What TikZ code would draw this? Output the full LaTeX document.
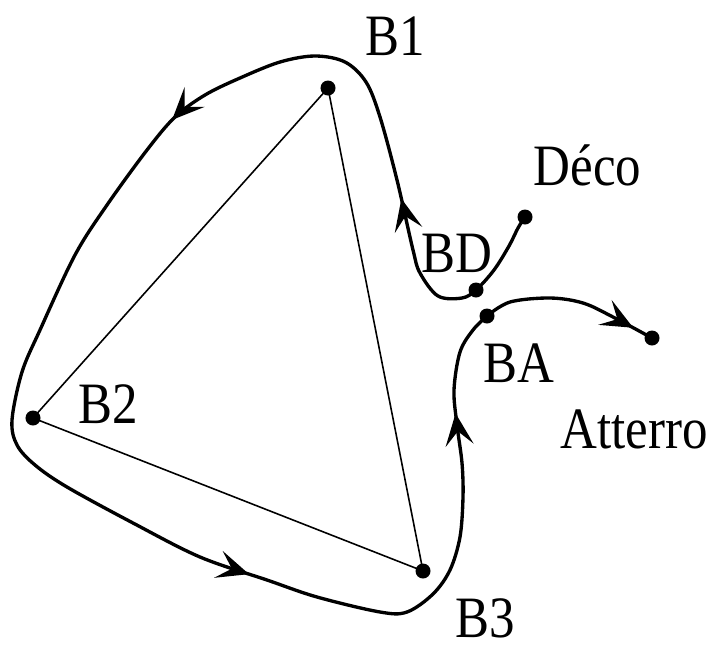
\documentclass[tikz,border=0pt]{standalone}
\usepackage{fontspec}
\setmainfont{Liberation Serif}
\usetikzlibrary{arrows.meta,decorations.markings}
\newcommand{\stretchtxt}[1]{\scalebox{1}[1.15]{#1}}
\begin{document}
\begin{tikzpicture}[x=0.01cm,y=-0.01cm,
  dot/.style={circle,fill=black,inner sep=0pt,minimum size=0.15cm},
  lbl/.style={font=\fontsize{14.5}{17}\selectfont,inner sep=0pt},
  tri/.style={line width=0.45pt},
  route/.style={line width=0.95pt},
  barb/.tip={Stealth[length=3.2mm,width=2.8mm,inset=1.4mm]},
]
\useasboundingbox (0,0) rectangle (712,651);
% way points
\node[dot] (B1) at (328,88) {};
\node[dot] (B2) at (33,418) {};
\node[dot] (B3) at (423,571) {};
\node[dot] (BD) at (476,290) {};
\node[dot] (DE) at (525,217) {};
\node[dot] (BA) at (487,316) {};
\node[dot] (AT) at (652,338) {};
% labels
\node[lbl,anchor=base west] (tB1) at (365,55) {\stretchtxt{B1}};
\node[lbl,anchor=base west] (tB2) at (78,423) {\stretchtxt{B2}};
\node[lbl,anchor=base west] (tB3) at (455,637) {\stretchtxt{B3}};
\node[lbl,anchor=base west] (tBD) at (421,272) {\stretchtxt{BD}};
\node[lbl,anchor=base west] (tBA) at (483,382) {\stretchtxt{BA}};
\node[lbl,anchor=base west] (tDE) at (533,185) {\stretchtxt{Déco}};
\node[lbl,anchor=base west] (tAT) at (560,448) {\stretchtxt{Atterro}};
% triangle
\draw[tri] (B1.center) -- (B2.center) -- (B3.center) -- (B1.center);
% main route
\draw[route,postaction={decorate},decoration={markings,
   mark=at position 0.138 with {\arrow{barb}},
   mark=at position 0.338 with {\arrow{barb}},
   mark=at position 0.712 with {\arrow{barb}},
   mark=at position 0.937 with {\arrow{barb}}}]
  plot[smooth,tension=0.55] coordinates {(DE.center) (518,228) (509,246) (494,270) (BD.center) (462,298) (438,296) (420,273)
   (413,250) (397,180) (380,117) (366,82) (345,62) (315,56) (280,62) (240,78) (205,95)
   (175,117) (147,150) (107,205) (75,255) (40,330) (22,372) (12,420) (17,445) (35,465)
   (67,487) (133,523) (200,557) (267,580) (317,597) (380,612) (407,612) (433,594)
   (450,570) (460,537) (463,497) (462,463) (457,425) (454,390) (460,352) (473,330) (BA.center)};
% landing route
\draw[route,postaction={decorate},decoration={markings,
   mark=at position 0.88 with {\arrow{barb}}}]
  plot[smooth,tension=0.55] coordinates {(BA.center) (510,302) (550,298) (583,303) (613,317) (AT.center)};
\end{tikzpicture}
\end{document}
